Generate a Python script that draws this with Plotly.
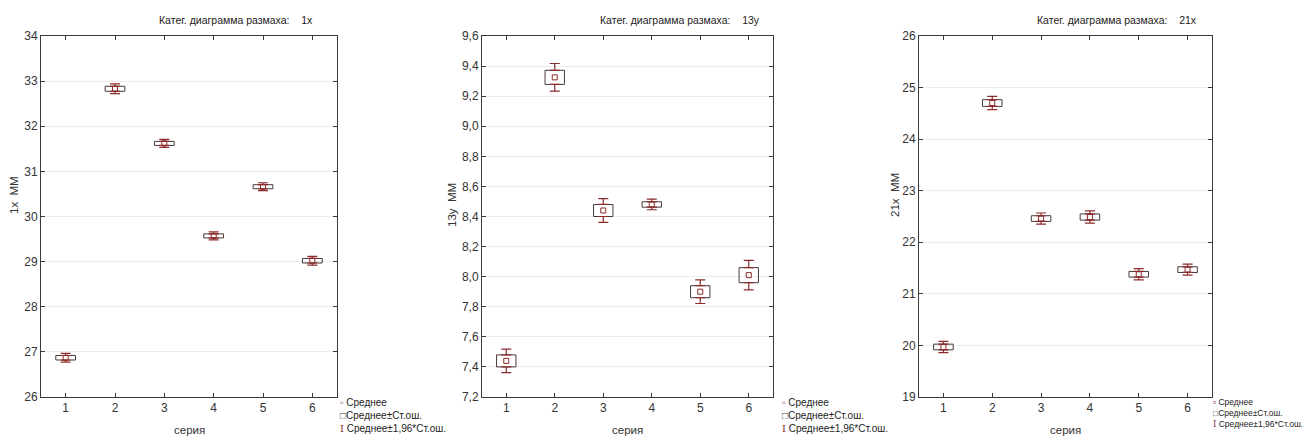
import plotly.graph_objects as go

W, H = 1304, 438

# ---- data ----
categories = [1, 2, 3, 4, 5, 6]

mean_1x = [26.87, 32.83, 31.62, 29.57, 30.66, 29.02]
se_1x = [0.05, 0.055, 0.045, 0.045, 0.045, 0.05]

mean_13y = [7.44, 9.325, 8.44, 8.48, 7.90, 8.01]
se_13y = [0.04, 0.047, 0.04, 0.018, 0.04, 0.05]

mean_21x = [19.97, 24.70, 22.46, 22.49, 21.38, 21.47]
se_21x = [0.055, 0.065, 0.055, 0.06, 0.055, 0.055]

panel_names = ["1x", "13y", "21x"]
y_titles = ["1x  MM", "13y  MM", "21x  MM"]
y_ranges = [(26, 34), (7.2, 9.6), (19, 26)]
y_dticks = [1, 0.2, 1]
y_formats = ["d", ".1f", "d"]
x_title = "серия"
title_prefix = "Катег. диаграмма размаха:"
legend_labels = ["Среднее", "Среднее±Ст.ош.", "Среднее±1,96*Ст.ош."]

# ---- styles ----
FONT = "Liberation Sans Narrow, Arial Narrow, Liberation Sans, Arial, sans-serif"
BOX_COLOR = "#4a3838"
WHISK_COLOR = "#8c2b2b"
MEAN_COLOR = "#8c2b2b"
AXIS_COLOR = "#3a3a3a"
GRID_COLOR = "#ececec"

# plot-area pixel extents (left, right) and common top/bottom
px_x = [(41, 337), (482, 773), (919, 1212)]
top_px, bot_px = 36, 397

fig = go.Figure()
series = [(mean_1x, se_1x), (mean_13y, se_13y), (mean_21x, se_21x)]

for i, (means, ses) in enumerate(series):
    n = i + 1
    xa = "x" if n == 1 else f"x{n}"
    ya = "y" if n == 1 else f"y{n}"
    lo = [m - s for m, s in zip(means, ses)]
    hi = [m + s for m, s in zip(means, ses)]
    ext = [0.96 * s for s in ses]
    zeros = [0] * len(ses)
    # box: mean ± SE
    fig.add_trace(go.Bar(
        x=categories, base=lo, y=[2 * s for s in ses], width=0.4,
        marker=dict(color="rgba(0,0,0,0)", line=dict(color=BOX_COLOR, width=1)),
        xaxis=xa, yaxis=ya, showlegend=False, hoverinfo="skip"))
    # whiskers: mean ± 1.96*SE (drawn outside the box)
    fig.add_trace(go.Scatter(
        x=categories + categories, y=hi + lo, mode="markers",
        marker=dict(size=1, opacity=0),
        error_y=dict(type="data", symmetric=False,
                     array=ext + zeros, arrayminus=zeros + ext,
                     color=WHISK_COLOR, thickness=1.2, width=5),
        xaxis=xa, yaxis=ya, showlegend=False, hoverinfo="skip"))
    # mean
    fig.add_trace(go.Scatter(
        x=categories, y=means, mode="markers",
        marker=dict(symbol="square-open", size=5, color=MEAN_COLOR,
                    line=dict(width=1, color=MEAN_COLOR)),
        xaxis=xa, yaxis=ya, showlegend=False))

layout = dict(
    width=W, height=H, autosize=False,
    margin=dict(l=0, r=0, t=0, b=0),
    paper_bgcolor="white", plot_bgcolor="white",
    separators=", ",
    font=dict(family=FONT, size=12, color="#222"),
    showlegend=False,
)

annotations = []
ytop = 1 - top_px / H
ybot = 1 - bot_px / H
ytitle_px = [195, 205, 195]
ytitle_x = [14, 452, 895]
legend_x = [339, 781, 1212]
legend_size = [10, 10, 8.5]

for i in range(3):
    n = i + 1
    xk = "xaxis" if n == 1 else f"xaxis{n}"
    yk = "yaxis" if n == 1 else f"yaxis{n}"
    l, r = px_x[i]
    layout[xk] = dict(
        domain=[l / W, r / W], anchor="y" if n == 1 else f"y{n}",
        range=[0.5, 6.5], tickvals=categories, ticks="inside", ticklen=4,
        tickcolor=AXIS_COLOR, mirror="ticks", showline=True, automargin=False,
        linecolor=AXIS_COLOR, linewidth=1, showgrid=False, zeroline=False,
        tickfont=dict(size=12, family=FONT, color="#333"))
    layout[yk] = dict(
        domain=[ybot, ytop], anchor="x" if n == 1 else f"x{n}",
        range=list(y_ranges[i]), dtick=y_dticks[i], tickformat=y_formats[i],
        ticks="inside", ticklen=4, automargin=False,
        tickcolor=AXIS_COLOR, mirror="ticks", showline=True,
        linecolor=AXIS_COLOR, linewidth=1, showgrid=True, gridcolor=GRID_COLOR,
        zeroline=False, tickfont=dict(size=12, family=FONT, color="#333"))
    # panel title
    annotations.append(dict(
        xref="paper", yref="paper", x=(l + 116) / W, y=1 - 20 / H,
        xanchor="left", yanchor="middle", showarrow=False,
        text=f"{title_prefix}&nbsp;&nbsp;&nbsp;&nbsp;{panel_names[i]}",
        font=dict(size=10.5, family=FONT, color="#222")))
    # x title
    annotations.append(dict(
        xref="paper", yref="paper", x=(l + r) / 2 / W, y=1 - 430 / H,
        xanchor="center", yanchor="middle", showarrow=False,
        text=x_title, font=dict(size=11.5, family=FONT, color="#333")))
    # y title
    annotations.append(dict(
        xref="paper", yref="paper", x=ytitle_x[i] / W, y=1 - ytitle_px[i] / H,
        xanchor="center", yanchor="middle", showarrow=False, textangle=-90,
        text=y_titles[i], font=dict(size=11.5, family=FONT, color="#333")))
    # legend
    leg_text = (
        f"<span style='color:{MEAN_COLOR}'>▫</span> {legend_labels[0]}<br>"
        f"<span style='color:{BOX_COLOR}'>□</span>{legend_labels[1]}<br>"
        f"<span style='color:{WHISK_COLOR};font-family:DejaVu Serif'>I</span> {legend_labels[2]}")
    annotations.append(dict(
        xref="paper", yref="paper", x=legend_x[i] / W, y=1 - 396 / H,
        xanchor="left", yanchor="top", align="left", showarrow=False,
        borderpad=0,
        text=leg_text, font=dict(size=legend_size[i], family=FONT, color="#222")))

layout["annotations"] = annotations
fig.update_layout(**layout)
fig.write_html(
    "out.html",
    config={"displayModeBar": False},
    post_script="document.body.style.margin='0';document.body.style.overflow='hidden';",
)
